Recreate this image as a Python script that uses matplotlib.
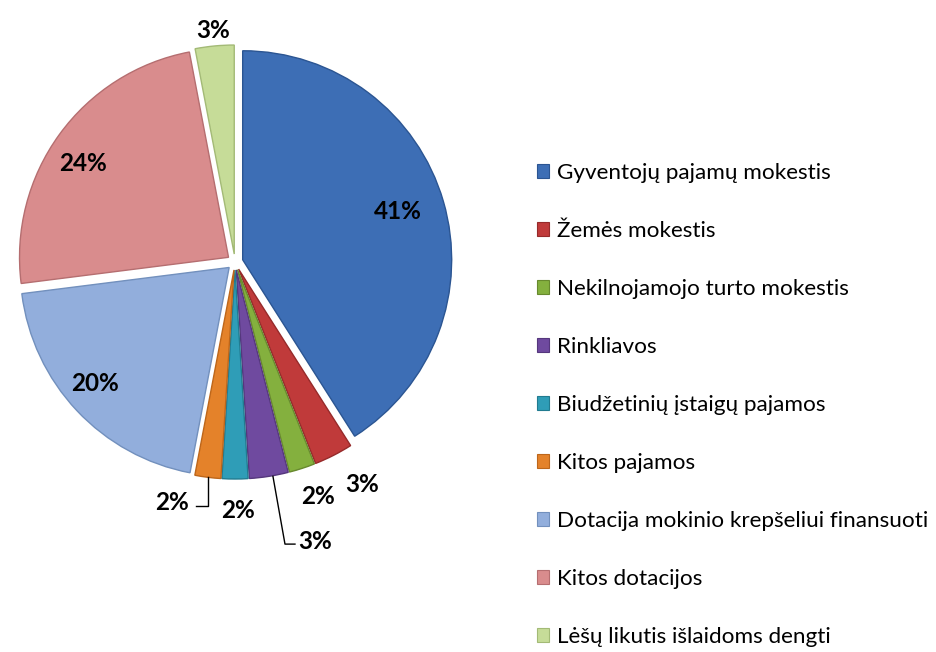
import numpy as np
import matplotlib
matplotlib.use("Agg")
import matplotlib.pyplot as plt
from matplotlib.patches import Patch

categories = [
    "Gyventojų pajamų mokestis",
    "Žemės mokestis",
    "Nekilnojamojo turto mokestis",
    "Rinkliavos",
    "Biudžetinių įstaigų pajamos",
    "Kitos pajamos",
    "Dotacija mokinio krepšeliui finansuoti",
    "Kitos dotacijos",
    "Lėšų likutis išlaidoms dengti",
]
values = [41, 3, 2, 3, 2, 2, 20, 24, 3]
labels = ["41%", "3%", "2%", "3%", "2%", "2%", "20%", "24%", "3%"]

colors = ["#3D6EB5", "#C03A3A", "#84B03E", "#6F4A9F", "#2F9DB7",
          "#E4822A", "#92AEDC", "#D98C8D", "#C6DC98"]
edges = ["#2B5592", "#962A2A", "#67892E", "#55377D", "#217B90",
         "#BD661A", "#7290BD", "#B56E70", "#A3BA76"]

W, H = 936, 652
fig = plt.figure(figsize=(W / 100, H / 100), dpi=100)
ax = fig.add_axes([0, 0, 1, 1])

cx, cy, R = 235, H - 262, 209
expl = 8  # absolute offset in data units (pixels)
wedges, _ = ax.pie(values, colors=colors, startangle=90, counterclock=False,
                   center=(cx, cy), radius=R, explode=[expl] * len(values),
                   wedgeprops=dict(linewidth=1.0), frame=True)
for w, ec in zip(wedges, edges):
    w.set_edgecolor(ec)
ax.set_xlim(0, W)
ax.set_ylim(0, H)
ax.set_aspect("equal")
ax.axis("off")

# label placement (style): radial factor and angle offset per slice
rfac = [0.82, 1.22, 1.18, 1.38, 1.18, 1.18, 0.88, 0.87, 1.12]
aoff = [1.5, 3.0, 1.6, 7.1, 0.7, -7.6, -2.6, 2.6, 0.0]
ydrop = 2

lfont = dict(family="Lato", fontsize=17.5, fontweight="bold", color="black")
label_pos = []
for w, lab, rf, ao in zip(wedges, labels, rfac, aoff):
    mid = np.deg2rad((w.theta1 + w.theta2) / 2 + ao)
    x = cx + R * rf * np.cos(mid)
    y = cy + R * rf * np.sin(mid) - ydrop
    label_pos.append((x, y))
    ax.text(x, y, lab, ha="center", va="center", **lfont)

def arc_point(w, frac=1.0):
    mid = np.deg2rad((w.theta1 + w.theta2) / 2)
    c = w.center
    return c[0] + w.r * frac * np.cos(mid), c[1] + w.r * frac * np.sin(mid)

# orange (index 5): down then left
sx, sy = arc_point(wedges[5])
lx, ly = label_pos[5]
ax.plot([sx, sx, lx + 24], [sy, ly - 4, ly - 4], color="black", lw=1.0)
# purple (index 3): down then right
sx, sy = arc_point(wedges[3])
lx, ly = label_pos[3]
ax.plot([sx + 4, lx - 30, lx - 20], [sy, ly - 3, ly - 3], color="black", lw=1.0)

handles = [Patch(facecolor=c, edgecolor=e, linewidth=0.8) for c, e in zip(colors, edges)]
leg = ax.legend(handles, categories, loc="upper left",
                bbox_to_anchor=(537 / W, 1 - 163 / H), frameon=False,
                prop=dict(family="Lato", size=16.2),
                handlelength=0.55, handleheight=0.55, handletextpad=0.35,
                labelspacing=1.69, borderpad=0, borderaxespad=0)

fig.savefig("out.png", dpi=100)
